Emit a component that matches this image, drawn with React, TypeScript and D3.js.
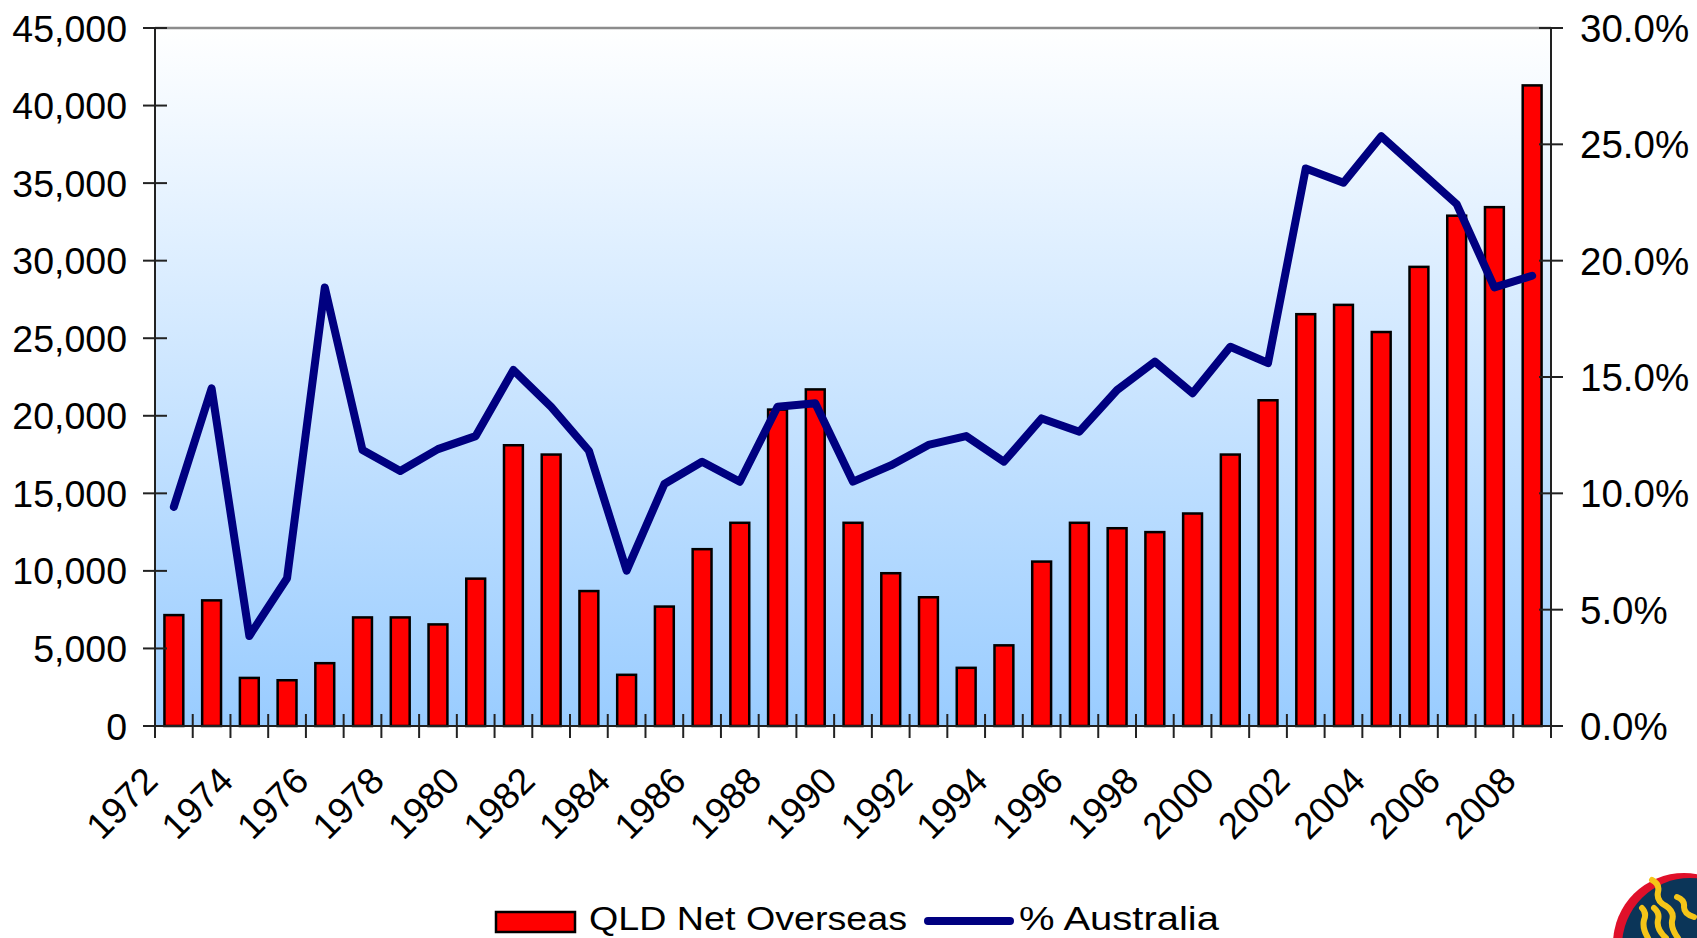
import React from "react";
import * as d3 from "d3";

// categories
const years = [
  "1972", "1973", "1974", "1975", "1976", "1977", "1978", "1979", "1980",
  "1981", "1982", "1983", "1984", "1985", "1986", "1987", "1988", "1989",
  "1990", "1991", "1992", "1993", "1994", "1995", "1996", "1997", "1998",
  "1999", "2000", "2001", "2002", "2003", "2004", "2005", "2006", "2007",
  "2008",
];

// QLD net overseas migration (persons)
const qldNet = [
  7150, 8100, 3100, 2950, 4050, 7000, 7000, 6550, 9500, 18100, 17500, 8700,
  3300, 7700, 11400, 13100, 20400, 21700, 13100, 9850, 8300, 3750, 5200,
  10600, 13100, 12750, 12500, 13700, 17500, 21000, 26550, 27150, 25400,
  29600, 32900, 33450, 41300,
];

// QLD share of Australian net overseas migration (%)
const pctAustralia = [
  9.42, 14.51, 3.87, 6.35, 18.85, 11.86, 10.96, 11.9, 12.46, 15.3, 13.72,
  11.83, 6.68, 10.4, 11.36, 10.5, 13.72, 13.87, 10.5, 11.2, 12.08, 12.46,
  11.36, 13.22, 12.65, 14.44, 15.66, 14.3, 16.3, 15.6, 23.96, 23.35, 25.35,
  23.89, 22.43, 18.85, 19.35,
];

const leftTicks = [0, 5000, 10000, 15000, 20000, 25000, 30000, 35000, 40000, 45000];
const rightTicks = [0, 5, 10, 15, 20, 25, 30];
const legendLabels = ["QLD Net Overseas", "% Australia"];

const width = 1697;
const height = 938;
const left = 155;
const right = 1551;
const top = 28;
const bottom = 726;
const font = "'Liberation Sans', Arial, sans-serif";

const App: React.FC = () => {
  const x = d3.scaleBand<string>().domain(years).range([left, right]).padding(0);
  const yLeft = d3.scaleLinear().domain([0, 45000]).range([bottom, top]);
  const yRight = d3.scaleLinear().domain([0, 30]).range([bottom, top]);
  const bw = x.bandwidth() * 0.5;
  const cx = (y: string) => (x(y) as number) + x.bandwidth() / 2;

  const line = d3
    .line<number>()
    .x((_, i) => cx(years[i]))
    .y((d) => yRight(d));

  const fmt = d3.format(",");
  const boundaries = years.map((y) => x(y) as number).concat([right]);

  return (
    <svg
      width={width}
      height={height}
      style={{ position: "absolute", left: 0, top: 0, display: "block" }}
      fontFamily={font}
    >
      <defs>
        <linearGradient id="plotBg" x1="0" y1="0" x2="0" y2="1">
          <stop offset="0%" stopColor="#ffffff" />
          <stop offset="100%" stopColor="#99ccff" />
        </linearGradient>
        <clipPath id="pageClip">
          <rect width={width} height={height} />
        </clipPath>
      </defs>
      <rect width={width} height={height} fill="#ffffff" />
      <rect x={left} y={top} width={right - left} height={bottom - top} fill="url(#plotBg)" />
      <line x1={left} x2={right} y1={top} y2={top} stroke="#8c8c8c" strokeWidth={2.5} />

      {/* bars */}
      {qldNet.map((v, i) => (
        <rect
          key={years[i]}
          x={cx(years[i]) - bw / 2}
          y={yLeft(v)}
          width={bw}
          height={bottom - yLeft(v)}
          fill="#ff0000"
          stroke="#000000"
          strokeWidth={2.5}
        />
      ))}

      {/* % Australia line */}
      <path
        d={line(pctAustralia) as string}
        fill="none"
        stroke="#000080"
        strokeWidth={8}
        strokeLinejoin="round"
        strokeLinecap="round"
      />

      {/* left axis */}
      <line x1={left} x2={left} y1={top} y2={bottom} stroke="#222" strokeWidth={2} />
      {leftTicks.map((t) => (
        <g key={t}>
          <line x1={left - 12} x2={left + 12} y1={yLeft(t)} y2={yLeft(t)} stroke="#222" strokeWidth={2} />
          <text x={127} y={yLeft(t) + 13.5} textAnchor="end" fontSize={37.5} fill="#000">
            {fmt(t)}
          </text>
        </g>
      ))}

      {/* right axis */}
      <line x1={right} x2={right} y1={top} y2={bottom} stroke="#222" strokeWidth={2} />
      {rightTicks.map((t) => (
        <g key={t}>
          <line x1={right - 12} x2={right + 12} y1={yRight(t)} y2={yRight(t)} stroke="#222" strokeWidth={2} />
          <text x={1580} y={yRight(t) + 14} textAnchor="start" fontSize={38.5} fill="#000">
            {t.toFixed(1) + "%"}
          </text>
        </g>
      ))}

      {/* bottom axis */}
      <line x1={left - 12} x2={right + 12} y1={bottom} y2={bottom} stroke="#222" strokeWidth={2} />
      {boundaries.map((b, i) => (
        <line key={i} x1={b} x2={b} y1={bottom - 12} y2={bottom + 12} stroke="#222" strokeWidth={2} />
      ))}
      {years.map((y, i) =>
        i % 2 === 0 ? (
          <text
            key={y}
            transform={`translate(${cx(y) - 14},${bottom + 57}) rotate(-45)`}
            textAnchor="end"
            fontSize={37}
            fill="#000"
          >
            {y}
          </text>
        ) : null
      )}

      {/* legend */}
      <rect x={496} y={912} width={79} height={20} fill="#ff0000" stroke="#000" strokeWidth={2.5} />
      <text x={589} y={930} fontSize={34} textLength={318} lengthAdjust="spacingAndGlyphs" fill="#000">
        {legendLabels[0]}
      </text>
      <line x1={928} x2={1010} y1={921} y2={921} stroke="#000080" strokeWidth={8} strokeLinecap="round" />
      <text x={1019} y={930} fontSize={34} textLength={200} lengthAdjust="spacingAndGlyphs" fill="#000">
        {legendLabels[1]}
      </text>

      {/* logo (cropped at the corner) */}
      <g clipPath="url(#pageClip)">
        <circle cx={1684} cy={944} r={71} fill="#e0102a" />
        <circle cx={1690} cy={946} r={68} fill="#0b3558" />
        <g fill="none" stroke="#f5c518" strokeWidth={6} strokeLinecap="round">
          <path d="M1652,880 q8,4 6,12 q-2,9 8,14 q9,6 6,15 q-1,8 6,17" />
          <path d="M1642,908 q5,5 2,12 q-2,8 4,18" />
          <path d="M1654,908 q6,5 4,12 q-2,9 8,18" />
          <path d="M1677,897 q8,3 7,10 q0,7 10,10" />
        </g>
      </g>
    </svg>
  );
};

export default App;
